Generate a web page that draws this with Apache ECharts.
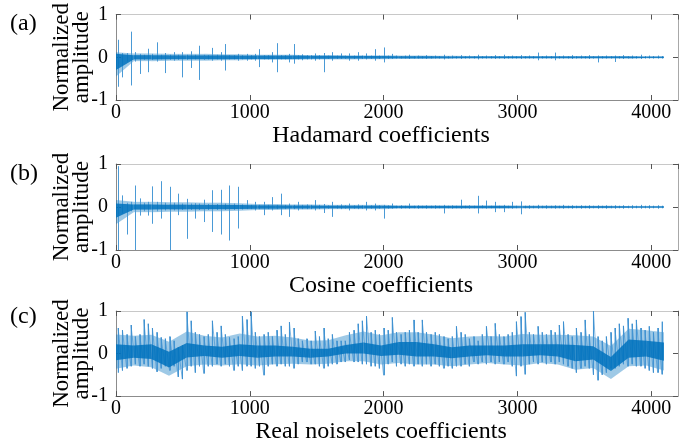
<!DOCTYPE html>
<html>
<head>
<meta charset="utf-8">
<script src="https://cdn.jsdelivr.net/npm/echarts@6/dist/echarts.min.js"></script>
<style>
html,body{margin:0;padding:0;background:#fff;}
#main{width:694px;height:445px;}
</style>
</head>
<body>
<div id="main"></div>
<script>
// per bin of 32 coefficients: max and min value
var binSize = 32;
var lastIndex = 4095;

var hadHi = [0.41,0.10,0.10,0.60,0.12,0.08,0.06,0.20, 0.08,0.35,0.06,0.10,0.06,0.12,0.06,0.12,
    0.06,0.14,0.06,0.27,0.06,0.05,0.22,0.06, 0.12,0.31,0.05,0.05,0.08,0.05,0.08,0.05,
    0.08,0.19,0.05,0.05,0.12,0.33,0.05,0.05, 0.08,0.31,0.05,0.07,0.05,0.05,0.09,0.05,
    0.10,0.04,0.12,0.04,0.09,0.04,0.09,0.04, 0.12,0.04,0.09,0.04,0.19,0.04,0.23,0.04,
    0.08,0.04,0.03,0.04,0.06,0.03,0.04,0.03, 0.05,0.03,0.04,0.03,0.06,0.03,0.04,0.03,
    0.05,0.03,0.04,0.03,0.06,0.03,0.04,0.03, 0.05,0.03,0.06,0.03,0.04,0.03,0.05,0.03,
    0.04,0.03,0.11,0.03,0.04,0.03,0.11,0.03, 0.04,0.03,0.05,0.03,0.04,0.03,0.05,0.03,
    0.04,0.03,0.04,0.03,0.04,0.03,0.05,0.03, 0.04,0.03,0.06,0.03,0.04,0.03,0.04,0.03];
var hadLo = [-0.69,-0.47,-0.10,-0.66,-0.10,-0.39,-0.06,-0.35, -0.06,-0.10,-0.05,-0.37,-0.06,-0.08,-0.06,-0.47,
    -0.06,-0.25,-0.05,-0.53,-0.06,-0.05,-0.08,-0.05, -0.08,-0.31,-0.05,-0.05,-0.08,-0.05,-0.08,-0.05,
    -0.08,-0.23,-0.05,-0.05,-0.12,-0.35,-0.05,-0.05, -0.12,-0.15,-0.05,-0.07,-0.05,-0.05,-0.08,-0.05,
    -0.35,-0.04,-0.08,-0.04,-0.04,-0.04,-0.08,-0.04, -0.08,-0.04,-0.05,-0.04,-0.08,-0.04,-0.12,-0.04,
    -0.04,-0.03,-0.03,-0.03,-0.04,-0.03,-0.03,-0.03, -0.04,-0.03,-0.03,-0.03,-0.05,-0.03,-0.03,-0.03,
    -0.04,-0.03,-0.03,-0.03,-0.05,-0.03,-0.03,-0.03, -0.04,-0.03,-0.04,-0.03,-0.03,-0.03,-0.04,-0.03,
    -0.03,-0.03,-0.07,-0.03,-0.03,-0.03,-0.07,-0.03, -0.03,-0.03,-0.04,-0.03,-0.03,-0.03,-0.04,-0.03,
    -0.12,-0.03,-0.03,-0.03,-0.11,-0.03,-0.04,-0.03, -0.03,-0.03,-0.04,-0.03,-0.03,-0.03,-0.03,-0.03];

var cosHi = [0.95,0.27,0.10,0.12,0.50,0.20,0.10,0.12, 0.48,0.12,0.60,0.10,0.47,0.10,0.31,0.08,
    0.19,0.08,0.09,0.08,0.17,0.07,0.39,0.07, 0.40,0.08,0.50,0.08,0.47,0.06,0.16,0.05,
    0.12,0.05,0.12,0.05,0.23,0.05,0.31,0.05, 0.08,0.05,0.12,0.05,0.06,0.05,0.16,0.05,
    0.07,0.04,0.12,0.04,0.06,0.04,0.08,0.04, 0.06,0.04,0.12,0.04,0.08,0.04,0.05,0.04,
    0.08,0.03,0.04,0.03,0.08,0.03,0.04,0.03, 0.04,0.03,0.04,0.03,0.05,0.03,0.04,0.03,
    0.17,0.03,0.04,0.03,0.26,0.04,0.15,0.03, 0.12,0.03,0.05,0.03,0.12,0.03,0.13,0.03,
    0.04,0.03,0.05,0.03,0.04,0.03,0.04,0.03, 0.05,0.03,0.04,0.03,0.04,0.03,0.04,0.03,
    0.04,0.03,0.04,0.03,0.04,0.03,0.04,0.03, 0.04,0.03,0.05,0.03,0.04,0.03,0.04,0.03];
var cosLo = [-1.0,-0.15,-0.64,-0.10,-1.0,-0.20,-0.10,-0.20, -0.39,-0.10,-0.27,-0.08,-1.0,-0.08,-0.19,-0.07,
    -0.74,-0.07,-0.27,-0.07,-0.35,-0.07,-0.58,-0.07, -0.64,-0.07,-0.78,-0.07,-0.50,-0.06,-0.05,-0.05,
    -0.08,-0.05,-0.19,-0.05,-0.08,-0.05,-0.19,-0.05, -0.23,-0.05,-0.08,-0.05,-0.05,-0.05,-0.08,-0.05,
    -0.14,-0.04,-0.23,-0.04,-0.05,-0.04,-0.08,-0.04, -0.05,-0.04,-0.08,-0.04,-0.08,-0.04,-0.27,-0.04,
    -0.04,-0.03,-0.04,-0.03,-0.04,-0.03,-0.04,-0.03, -0.04,-0.03,-0.04,-0.03,-0.15,-0.03,-0.04,-0.03,
    -0.04,-0.03,-0.04,-0.03,-0.15,-0.03,-0.04,-0.03, -0.12,-0.03,-0.12,-0.03,-0.04,-0.03,-0.17,-0.03,
    -0.04,-0.03,-0.04,-0.03,-0.04,-0.03,-0.04,-0.03, -0.04,-0.03,-0.04,-0.03,-0.04,-0.03,-0.04,-0.03,
    -0.04,-0.03,-0.04,-0.03,-0.04,-0.03,-0.04,-0.03, -0.04,-0.03,-0.04,-0.03,-0.04,-0.03,-0.04,-0.03];

var noiHi = [0.6,0.55,0.45,0.67,0.4,0.45,0.8,0.7, 0.6,0.5,0.38,0.35,0.4,0.3,0.15,0.2,
    0.98,0.77,0.5,0.45,0.4,0.45,0.77,0.5, 0.65,0.45,0.38,0.35,0.4,0.88,0.8,0.98,
    0.5,0.4,0.45,0.5,0.4,0.55,0.65,0.45, 0.74,0.6,0.35,0.3,0.35,0.3,0.53,0.4,
    0.6,0.35,0.45,0.3,0.3,0.3,0.5,0.55, 0.7,0.77,0.88,0.5,0.55,0.45,0.6,0.55,
    0.85,0.5,0.45,0.5,0.55,0.79,0.5,0.79, 0.5,0.45,0.5,0.45,0.4,0.35,0.4,0.64,
    0.5,0.45,0.35,0.4,0.3,0.45,0.64,0.4, 0.71,0.45,0.4,0.45,0.5,0.75,0.87,0.97,
    0.5,0.45,0.64,0.5,0.45,0.55,0.5,0.67, 0.75,0.45,0.4,0.6,0.5,0.79,0.45,1.0,
    0.4,0.3,0.4,0.5,0.6,0.7,0.65,0.83, 0.7,0.79,0.6,0.55,0.64,0.5,0.6,0.75];
var noiLo = [-0.45,-0.4,-0.35,-0.3,-0.25,-0.3,-0.25,-0.3, -0.35,-0.43,-0.35,-0.3,-0.4,-0.3,-0.55,-0.6,
    -0.4,-0.3,-0.45,-0.3,-0.47,-0.3,-0.3,-0.25, -0.3,-0.25,-0.3,-0.4,-0.3,-0.4,-0.3,-0.3,
    -0.35,-0.3,-0.51,-0.3,-0.25,-0.3,-0.25,-0.3, -0.3,-0.35,-0.25,-0.2,-0.2,-0.25,-0.25,-0.3,
    -0.35,-0.3,-0.25,-0.25,-0.2,-0.2,-0.15,-0.2, -0.2,-0.25,-0.25,-0.3,-0.3,-0.35,-0.51,-0.25,
    -0.2,-0.3,-0.25,-0.3,-0.25,-0.3,-0.25,-0.3, -0.25,-0.3,-0.25,-0.3,-0.35,-0.3,-0.35,-0.3,
    -0.3,-0.25,-0.3,-0.2,-0.25,-0.2,-0.25,-0.2, -0.25,-0.2,-0.25,-0.2,-0.3,-0.53,-0.3,-0.49,
    -0.25,-0.2,-0.25,-0.2,-0.25,-0.2,-0.25,-0.2, -0.25,-0.3,-0.35,-0.45,-0.35,-0.3,-0.35,-0.5,
    -0.63,-0.5,-0.45,-0.35,-0.35,-0.3,-0.25,-0.3, -0.25,-0.3,-0.3,-0.35,-0.4,-0.45,-0.45,-0.49];

// per group of 128 coefficients: where the trace is dense (core) and fairly dense (mid)
var hadCoreHi = [0.08,0.05,0.05,0.045,0.045,0.045,0.045,0.04,0.04,0.04,0.04,0.035,0.035,0.03,0.03,0.03,
    0.025,0.025,0.025,0.02,0.02,0.02,0.02,0.02,0.02,0.02,0.02,0.02,0.02,0.02,0.015,0.015];
var hadCoreLo = [-0.3,-0.05,-0.05,-0.045,-0.045,-0.045,-0.045,-0.04,-0.04,-0.04,-0.04,-0.035,-0.035,-0.03,-0.03,-0.03,
    -0.025,-0.025,-0.025,-0.02,-0.02,-0.02,-0.02,-0.02,-0.02,-0.02,-0.02,-0.02,-0.02,-0.02,-0.015,-0.015];
var hadMidHi = [0.12,0.09,0.09,0.08,0.08,0.08,0.07,0.07,0.06,0.06,0.06,0.05,0.05,0.05,0.045,0.045,
    0.04,0.04,0.035,0.035,0.03,0.03,0.03,0.03,0.03,0.03,0.03,0.03,0.03,0.03,0.025,0.025];
var hadMidLo = [-0.45,-0.09,-0.09,-0.08,-0.08,-0.08,-0.07,-0.07,-0.06,-0.06,-0.06,-0.05,-0.05,-0.05,-0.045,-0.045,
    -0.04,-0.04,-0.035,-0.035,-0.03,-0.03,-0.03,-0.03,-0.03,-0.03,-0.03,-0.03,-0.03,-0.03,-0.025,-0.025];
var cosCoreHi = [0.08,0.06,0.06,0.055,0.055,0.05,0.05,0.045,0.04,0.04,0.035,0.035,0.03,0.03,0.03,0.03,
    0.025,0.025,0.025,0.025,0.025,0.025,0.025,0.02,0.02,0.02,0.02,0.02,0.02,0.015,0.015,0.015];
var cosCoreLo = [-0.25,-0.06,-0.06,-0.055,-0.055,-0.05,-0.05,-0.045,-0.04,-0.04,-0.035,-0.035,-0.03,-0.03,-0.03,-0.03,
    -0.025,-0.025,-0.025,-0.025,-0.025,-0.025,-0.025,-0.02,-0.02,-0.02,-0.02,-0.02,-0.02,-0.015,-0.015,-0.015];
var cosMidHi = [0.16,0.12,0.12,0.11,0.11,0.1,0.1,0.09,0.07,0.07,0.06,0.06,0.05,0.05,0.05,0.05,
    0.04,0.04,0.04,0.04,0.04,0.04,0.04,0.035,0.035,0.035,0.03,0.03,0.03,0.025,0.025,0.025];
var cosMidLo = [-0.4,-0.12,-0.12,-0.11,-0.11,-0.1,-0.1,-0.09,-0.07,-0.07,-0.06,-0.06,-0.05,-0.05,-0.05,-0.05,
    -0.04,-0.04,-0.04,-0.04,-0.04,-0.04,-0.04,-0.035,-0.035,-0.035,-0.03,-0.03,-0.03,-0.025,-0.025,-0.025];
var noiCoreHi = [0.22,0.19,0.22,0.04,0.25,0.19,0.16,0.22,0.19,0.19,0.16,0.11,0.11,0.2,0.26,0.19,
    0.27,0.27,0.22,0.15,0.19,0.19,0.19,0.22,0.22,0.22,0.2,0.17,-0.08,0.33,0.3,0.26];
var noiCoreLo = [-0.16,-0.1,-0.13,-0.33,-0.09,-0.06,-0.1,-0.06,-0.1,-0.07,-0.07,-0.1,-0.07,0.0,0.0,-0.06,
    -0.03,-0.07,-0.07,-0.11,-0.07,-0.04,-0.07,-0.07,-0.04,-0.07,-0.18,-0.14,-0.41,-0.1,-0.07,-0.17];
var noiMidHi = [0.45,0.42,0.44,0.28,0.52,0.42,0.38,0.47,0.4,0.42,0.38,0.3,0.31,0.43,0.52,0.43,
    0.5,0.5,0.44,0.36,0.4,0.41,0.4,0.46,0.44,0.44,0.43,0.4,0.18,0.58,0.55,0.5];
var noiMidLo = [-0.36,-0.28,-0.32,-0.52,-0.3,-0.26,-0.28,-0.25,-0.28,-0.25,-0.24,-0.26,-0.24,-0.18,-0.18,-0.26,
    -0.22,-0.26,-0.26,-0.3,-0.26,-0.22,-0.26,-0.28,-0.22,-0.26,-0.38,-0.34,-0.6,-0.3,-0.28,-0.4];

var xTicks = [0, 1000, 2000, 3000, 4000];
var xNames = ['Hadamard coefficients', 'Cosine coefficients', 'Real noiselets coefficients'];
var tags = ['(a)', '(b)', '(c)'];

var panels = [
    {hi: hadHi, lo: hadLo, coreHi: hadCoreHi, coreLo: hadCoreLo, midHi: hadMidHi, midLo: hadMidLo, zigzag: false},
    {hi: cosHi, lo: cosLo, coreHi: cosCoreHi, coreLo: cosCoreLo, midHi: cosMidHi, midLo: cosMidLo, zigzag: false},
    {hi: noiHi, lo: noiLo, coreHi: noiCoreHi, coreLo: noiCoreLo, midHi: noiMidHi, midLo: noiMidLo, zigzag: true}
];

var font = '"Liberation Serif", "Times New Roman", serif';
var tops = [14, 164, 311];
var tagTops = [12, 162, 305];

var myChart = echarts.init(document.getElementById('main'));

var grids = [], xAxes = [], yAxes = [], series = [], graphics = [];

function spikeItem(params, api) {
    var p1 = api.coord([api.value(0), api.value(1)]);
    var p2 = api.coord([api.value(0), api.value(2)]);
    var x = Math.round(p1[0]) + 0.5;
    return {
        type: 'line',
        shape: {x1: x, y1: p1[1], x2: x, y2: p2[1]},
        style: {stroke: '#4a9ad6', lineWidth: 1}
    };
}

function makeBand(fill) {
    // trapezoid between two neighbouring groups
    return function(params, api) {
        var a = api.coord([api.value(0), api.value(1)]);
        var b = api.coord([api.value(0), api.value(2)]);
        var c = api.coord([api.value(3), api.value(5)]);
        var d = api.coord([api.value(3), api.value(4)]);
        return {type: 'polygon', shape: {points: [a, b, c, d]}, style: {fill: fill, stroke: null}};
    };
}

function bandData(top, bottom) {
    var out = [];
    for (var g = 0; g < top.length - 1; g++) {
        out.push([g * lastIndex / 31, bottom[g], top[g], (g + 1) * lastIndex / 31, bottom[g + 1], top[g + 1]]);
    }
    return out;
}

for (var k = 0; k < 3; k++) {
    var p = panels[k];
    grids.push({left: 116, top: tops[k], width: 562, height: 86});

    xAxes.push({
        gridIndex: k, type: 'value', min: 0, max: 4200, interval: 1000, position: 'bottom',
        axisLine: {onZero: false, lineStyle: {color: '#8c8c8c', width: 1}},
        axisTick: {inside: true, length: 5, lineStyle: {color: '#555'}},
        splitLine: {show: false},
        axisLabel: {color: '#000', fontFamily: font, fontSize: 20, margin: 3, showMaxLabel: false,
            formatter: function(v) { return xTicks.indexOf(v) >= 0 ? String(v) : ''; }},
        name: xNames[k], nameLocation: 'middle', nameGap: 15,
        nameTextStyle: {color: '#000', fontFamily: font, fontSize: 24, verticalAlign: 'top', padding: [0, 32, 0, 0]}
    });
    xAxes.push({
        gridIndex: k, type: 'value', min: 0, max: 4200, interval: 1000, position: 'top',
        axisLine: {onZero: false, lineStyle: {color: '#c8c8c8', width: 1}},
        axisTick: {inside: true, length: 5, lineStyle: {color: '#555'}},
        splitLine: {show: false}, axisLabel: {show: false}
    });
    yAxes.push({
        gridIndex: k, type: 'value', min: -1, max: 1, interval: 1, position: 'left',
        axisLine: {onZero: false, lineStyle: {color: '#8c8c8c', width: 1}},
        axisTick: {inside: true, length: 5, lineStyle: {color: '#555'}},
        splitLine: {show: false},
        axisLabel: {color: '#000', fontFamily: font, fontSize: 20, margin: 8},
        name: 'Normalized\namplitude', nameLocation: 'middle', nameRotate: 90, nameGap: 24,
        nameMoveOverlap: false,
        nameTextStyle: {color: '#000', fontFamily: font, fontSize: 23, lineHeight: 20}
    });
    yAxes.push({
        gridIndex: k, type: 'value', min: -1, max: 1, interval: 1, position: 'right',
        axisLine: {onZero: false, lineStyle: {color: '#a8a8a8', width: 1}},
        axisTick: {inside: true, length: 5, lineStyle: {color: '#555'}},
        splitLine: {show: false}, axisLabel: {show: false}
    });

    var spikes = p.hi.map(function(h, i) { return [i * binSize + binSize / 2, p.lo[i], h]; });

    series.push({
        type: 'custom', xAxisIndex: k * 2, yAxisIndex: k * 2, data: bandData(p.midHi, p.midLo),
        renderItem: makeBand('rgba(0,114,189,0.38)'), silent: true, z: 2
    });
    series.push({
        type: 'custom', xAxisIndex: k * 2, yAxisIndex: k * 2, data: spikes,
        renderItem: spikeItem, silent: true, z: 3
    });
    if (p.zigzag) {
        // the dense noise: min then max of each bin, joined in order
        var trace = [];
        p.hi.forEach(function(h, i) {
            var x = i * binSize + binSize / 2;
            trace.push([x, p.lo[i]]);
            trace.push([x, h]);
        });
        series.push({
            type: 'line', xAxisIndex: k * 2, yAxisIndex: k * 2, data: trace, symbol: 'none',
            silent: true, lineStyle: {color: '#3d8fd0', width: 0.8, opacity: 0.8}, z: 3
        });
    }
    series.push({
        type: 'custom', xAxisIndex: k * 2, yAxisIndex: k * 2, data: bandData(p.coreHi, p.coreLo),
        renderItem: makeBand('rgba(0,114,189,0.85)'), silent: true, z: 4
    });

    graphics.push({
        type: 'text', left: 10, top: tagTops[k],
        style: {text: tags[k], font: '24px ' + font, fill: '#000'}
    });
}

var option = {
    backgroundColor: '#fff',
    animation: false,
    grid: grids,
    xAxis: xAxes,
    yAxis: yAxes,
    series: series,
    graphic: graphics
};
myChart.setOption(option);
</script>
</body>
</html>
